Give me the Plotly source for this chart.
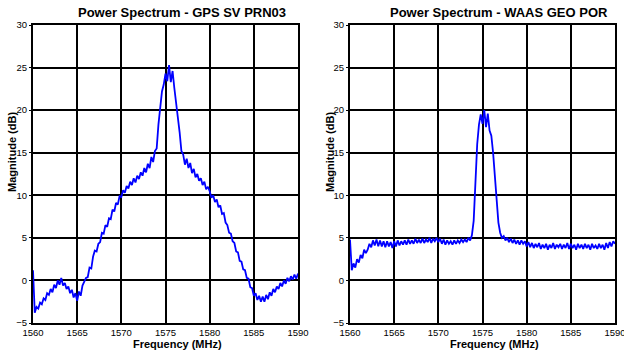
import plotly.graph_objects as go

# Frequency sampling (MHz): start and step of the spectrum samples
freq_start = 1560.0
freq_step = 0.2

# GPS SV PRN03 power spectrum (dB), 0.2 MHz steps from 1560 to 1590 MHz
gps_db = [
    1.2, -3.8, -3.1, -3.3, -2.6, -2.8, -2.1, -2.3, -1.5, -1.7,
    -1.0, -1.4, -0.5, -0.9, 0.0, -0.5, 0.3, -0.6, -0.3, -1.0,
    -0.7, -1.5, -1.1, -2.0, -1.5, -2.4, -1.3, -1.8, -0.6, -0.2,
    0.3, 0.4, 1.5, 1.4, 2.8, 3.5, 3.4, 4.3, 4.5, 5.6,
    5.5, 6.5, 6.3, 7.3, 7.2, 8.3, 8.1, 9.1, 8.9, 9.9,
    9.8, 10.6, 10.3, 11.1, 10.8, 11.6, 11.2, 12.0, 11.5, 12.3,
    11.9, 12.7, 12.3, 13.2, 12.7, 13.7, 13.2, 14.5, 13.9, 15.2,
    15.5, 18.3, 20.5, 22.2, 23.0, 24.3, 23.4, 25.3, 23.3, 24.6,
    22.6, 21.0, 19.3, 17.4, 15.2, 14.8, 13.6, 14.3, 13.2, 13.8,
    12.6, 13.1, 12.1, 12.5, 11.7, 12.0, 11.2, 11.6, 10.7, 11.0,
    10.5, 9.7, 10.0, 9.2, 9.5, 8.6, 8.8, 7.8, 7.9, 6.8,
    6.5, 5.6, 5.5, 4.6, 4.4, 3.4, 3.3, 2.3, 2.2, 1.3,
    1.2, 0.3, 0.2, -0.8, -0.9, -1.8, -1.5, -2.3, -1.8, -2.5,
    -1.9, -2.5, -1.7, -2.2, -1.4, -1.8, -1.0, -1.4, -0.7, -1.0,
    -0.3, -0.7, 0.0, -0.4, 0.3, -0.1, 0.5, 0.1, 0.7, 0.2,
    0.8,
]

# WAAS GEO POR power spectrum (dB), 0.2 MHz steps from 1560 to 1590 MHz
waas_db = [
    4.8, 1.2, 2.0, 1.5, 2.5, 2.1, 3.0, 2.6, 3.6, 3.2,
    3.6, 4.3, 3.9, 4.7, 4.1, 4.8, 4.0, 4.7, 4.0, 4.6,
    3.9, 4.6, 4.0, 4.5, 3.8, 4.6, 4.0, 4.7, 4.1, 4.6,
    4.2, 4.7, 4.2, 4.8, 4.3, 4.7, 4.3, 4.9, 4.4, 4.8,
    4.4, 4.9, 4.4, 4.8, 4.5, 5.0, 4.4, 4.9, 4.6, 5.0,
    4.5, 4.9, 4.3, 4.8, 4.2, 4.7, 4.3, 4.6, 4.2, 4.7,
    4.3, 4.7, 4.4, 4.8, 4.5, 4.8, 4.5, 5.0, 4.7, 5.3,
    7.0, 12.0, 16.0, 18.3, 19.5, 18.4, 20.0, 18.0, 19.6, 17.6,
    17.0, 15.0, 12.5, 9.5, 6.8, 5.6, 5.0, 5.2, 4.7, 5.0,
    4.5, 4.9, 4.4, 4.8, 4.3, 4.7, 4.2, 4.7, 4.3, 4.6,
    4.0, 4.5, 3.9, 4.4, 3.8, 4.3, 3.9, 4.4, 3.7, 4.2,
    3.8, 4.3, 3.6, 4.2, 3.8, 4.4, 3.7, 4.2, 3.9, 4.3,
    3.7, 4.2, 3.8, 4.4, 3.7, 4.3, 3.8, 4.2, 3.6, 4.3,
    3.8, 4.2, 3.7, 4.3, 3.8, 4.2, 3.6, 4.3, 3.8, 4.1,
    3.7, 4.3, 3.8, 4.2, 3.6, 4.4, 3.8, 4.5, 4.0, 4.6,
    4.3,
]

titles = ["Power Spectrum - GPS SV PRN03", "Power Spectrum - WAAS GEO POR"]
x_title = "Frequency (MHz)"
y_title = "Magnitude (dB)"
x_range = [1560, 1590]
y_range = [-5, 30]

W, H = 624, 358
FONT = "Liberation Sans, Arial, Helvetica, sans-serif"
BLUE = "#0000ff"

fig = go.Figure()
fig.add_trace(go.Scatter(x0=freq_start, dx=freq_step, y=gps_db, mode="lines",
                         line=dict(color=BLUE, width=1.8), xaxis="x", yaxis="y",
                         showlegend=False))
fig.add_trace(go.Scatter(x0=freq_start, dx=freq_step, y=waas_db, mode="lines",
                         line=dict(color=BLUE, width=1.8), xaxis="x2", yaxis="y2",
                         showlegend=False))

def px_x(p):
    return p / W

def px_y(p):
    return 1 - p / H

ydom = [px_y(323), px_y(25)]
axis_common = dict(
    showgrid=True, gridcolor="black", gridwidth=1.6,
    showline=True, linecolor="black", linewidth=2, mirror=True,
    zeroline=False, tickfont=dict(family=FONT, size=9.5, color="black"),
    dtick=5, automargin=False,
)
x_extra = dict(ticks="", ticklabeloverflow="allow")
y_extra = dict(ticks="outside", ticklen=2, tickcolor="black")

fig.update_layout(
    width=W, height=H,
    margin=dict(l=0, r=0, t=0, b=0),
    paper_bgcolor="white", plot_bgcolor="white",
    xaxis=dict(domain=[px_x(33), px_x(298)], range=x_range, anchor="y", **axis_common, **x_extra),
    yaxis=dict(domain=ydom, range=y_range, anchor="x", **axis_common, **y_extra),
    xaxis2=dict(domain=[px_x(350), px_x(615)], range=x_range, anchor="y2", **axis_common, **x_extra),
    yaxis2=dict(domain=ydom, range=y_range, anchor="x2", **axis_common, **y_extra),
)

ann = []
for i, (tcx, xcx, ycx) in enumerate([(182, 177.5, 12), (499, 494, 330)]):
    ann.append(dict(text="<b>%s</b>" % titles[i], x=px_x(tcx), y=px_y(13),
                    xref="paper", yref="paper", showarrow=False,
                    xanchor="center", yanchor="middle",
                    font=dict(family=FONT, size=13, color="black")))
    ann.append(dict(text="<b>%s</b>" % x_title, x=px_x(xcx), y=px_y(344),
                    xref="paper", yref="paper", showarrow=False,
                    xanchor="center", yanchor="middle",
                    font=dict(family=FONT, size=11, color="black")))
    ann.append(dict(text="<b>%s</b>" % y_title, x=px_x(ycx), y=px_y(152),
                    xref="paper", yref="paper", showarrow=False, textangle=-90,
                    xanchor="center", yanchor="middle",
                    font=dict(family=FONT, size=11, color="black")))
fig.update_layout(annotations=ann)

fig.write_html("out.html")
